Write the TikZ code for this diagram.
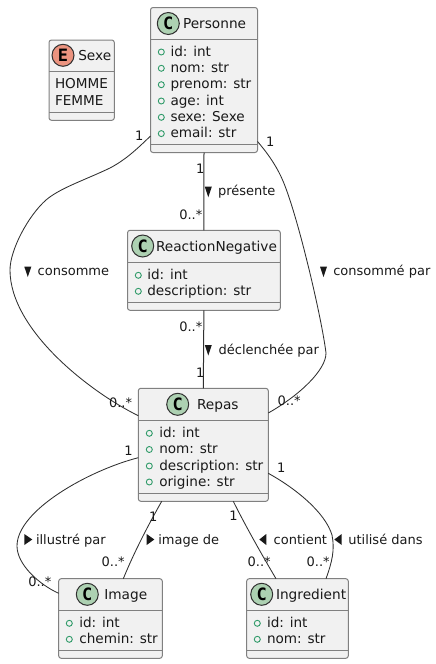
\documentclass[tikz,border=0pt]{standalone}
\usepackage{fontspec}
\setmainfont{DejaVu Sans}
\newfontfamily\badgefont{DejaVu Sans Mono}[BoldFont={DejaVu Sans Mono Bold}]
\usetikzlibrary{calc}
\definecolor{boxfill}{HTML}{F1F1F1}
\definecolor{boxline}{HTML}{808080}
\definecolor{edgeink}{HTML}{303030}
\definecolor{attrgreen}{HTML}{2E9A68}
\definecolor{classgreen}{HTML}{ADD1B2}
\definecolor{enumred}{HTML}{EB937F}
\tikzset{
  x=1pt,y=-1pt,
  classbox/.style={draw=boxline,fill=boxfill,line width=1pt,rounded corners=2.5pt,inner sep=0pt,outer sep=0pt},
  sepline/.style={draw=boxline,line width=1pt},
  badge/.style={circle,draw=edgeink,line width=1pt,minimum size=22pt,inner sep=0pt,outer sep=0pt,font=\badgefont\fontsize{17}{17}\selectfont\bfseries},
  titletext/.style={anchor=base west,inner sep=0pt,outer sep=0pt,text=black!90,font=\fontsize{13.7}{14}\selectfont},
  membertext/.style={anchor=base west,inner sep=0pt,outer sep=0pt,text=black!90,font=\fontsize{13.6}{14}\selectfont},
  edgetext/.style={anchor=base west,inner sep=0pt,outer sep=0pt,text=black!90,font=\fontsize{13}{13}\selectfont},
  plusdot/.style={circle,draw=attrgreen,line width=0.9pt,minimum size=6pt,inner sep=0pt,outer sep=0pt},
  link/.style={draw=edgeink,line width=1pt},
  curvelink/.style={draw=edgeink,line width=0.85pt},
  tri/.style={fill=black!90,draw=none}
}
% name, x1, y1, x2, y2, sep1, sep2
\newcommand{\umlbox}[7]{%
  \node[classbox,minimum width={#4-#2},minimum height={#5-#3}] (#1) at ({(#2+#4)/2},{(#3+#5)/2}) {};
  \draw[sepline] (#1.west |- 0,#6) -- (#1.east |- 0,#6);
  \draw[sepline] (#1.west |- 0,#7) -- (#1.east |- 0,#7);
}
% name, text x, circle x, baseline, text
\newcommand{\umlattr}[5]{%
  \node[plusdot] (#1c) at (#3,#4-4) {};
  \node[membertext] (#1) at (#2,#4) {#5};
}
\newcommand{\elabel}[4]{\node[edgetext] (#1) at (#2,#3) {#4};}
\begin{document}
\begin{tikzpicture}
\useasboundingbox (0,0) rectangle (436,664);

% Boxes
\umlbox{sexe}{49}{40}{114.3}{120.3}{71.3}{112.3}
\node[badge,fill=enumred] (sexeb) at (63,55.3) {E};
\node[titletext] (sexet) at (78.3,60) {Sexe};
\node[membertext] (sexeh) at (55,88) {HOMME};
\node[membertext] (sexef) at (55,105) {FEMME};

\umlbox{personne}{150.5}{7.5}{257.5}{152.5}{39.5}{144.3}
\node[badge,fill=classgreen] (personneb) at (168.3,23.5) {C};
\node[titletext] (personnet) at (183,28.5) {Personne};
\umlattr{pa}{170.5}{161.3}{56}{id: int}
\umlattr{pb}{170.5}{161.3}{72.3}{nom: str}
\umlattr{pc}{170.5}{161.3}{88.7}{prenom: str}
\umlattr{pd}{170.5}{161.3}{105}{age: int}
\umlattr{pe}{170.5}{161.3}{121.3}{sexe: Sexe}
\umlattr{pf}{170.5}{161.3}{137.6}{email: str}

\umlbox{reaction}{127.5}{230.3}{280.3}{310.3}{262.3}{302.3}
\node[badge,fill=classgreen] (reactionb) at (142.7,246) {C};
\node[titletext] (reactiont) at (156,251.3) {ReactionNegative};
\umlattr{ra}{147.3}{138.3}{279.3}{id: int}
\umlattr{rb}{147.3}{138.3}{295.3}{description: str}

\umlbox{repas}{138.3}{388.3}{268.3}{501.3}{420.3}{493.3}
\node[badge,fill=classgreen] (repasb) at (177.7,404.3) {C};
\node[titletext] (repast) at (197,409.3) {Repas};
\umlattr{ma}{159.3}{149.3}{437.3}{id: int}
\umlattr{mb}{159.3}{149.3}{453.5}{nom: str}
\umlattr{mc}{159.3}{149.3}{470}{description: str}
\umlattr{md}{159.3}{149.3}{486}{origine: str}

\umlbox{image}{58.7}{578.7}{162.3}{658.3}{610.3}{650.3}
\node[badge,fill=classgreen] (imageb) at (87.3,594.3) {C};
\node[titletext] (imaget) at (104.3,599.3) {Image};
\umlattr{ia}{79.3}{69.3}{627.3}{id: int}
\umlattr{ib}{79.3}{69.3}{643.3}{chemin: str}

\umlbox{ingredient}{246.7}{578.7}{348.3}{658.3}{610.3}{650.3}
\node[badge,fill=classgreen] (ingredientb) at (261.7,594.3) {C};
\node[titletext] (ingredientt) at (276,599.3) {Ingredient};
\umlattr{ga}{267}{257.3}{627.3}{id: int}
\umlattr{gb}{267}{257.3}{643.3}{nom: str}

% Connectors
\draw[link] (personne.south) -- (reaction.north);
\draw[link] (reaction.south) -- (repas.north);
\draw[curvelink] ($(personne.north west)+(0,128.5)$) .. controls (135,151) and (125,160) .. (110,168)
  .. controls (85,180) and (60,188) .. (46,200)
  .. controls (28,216) and (10,250) .. (10,270)
  .. controls (10,330) and (90,392) .. ($(repas.north west)+(0,27.4)$);
\draw[curvelink] ($(personne.north east)+(0,134)$) .. controls (270,156) and (279,170) .. (285,186)
  .. controls (300,225) and (322,320) .. (326,353)
  .. controls (326,370) and (300,395) .. ($(repas.north east)+(0,24.7)$);
\draw[curvelink] ($(repas.north west)+(0,69.4)$) .. controls (90,470) and (17,510) .. (17,546)
  .. controls (17,565) and (40,585) .. ($(image.north west)+(0,14.6)$);
\draw[curvelink] ($(repas.south west)+(23.4,0)$) .. controls (150,522) and (135,550) .. ($(image.north west)+(64.6,0)$);
\draw[curvelink] ($(repas.south east)+(-35,0)$) .. controls (245,525) and (262,555) .. ($(ingredient.north west)+(29.3,0)$);
\draw[curvelink] ($(repas.north east)+(0,85)$) .. controls (295,488) and (325,512) .. (332,535)
  .. controls (335,550) and (332,562) .. ($(ingredient.north west)+(79.3,0)$);

% Connector labels
\elabel{m1}{135}{140}{1}
\elabel{m2}{266}{146}{1}
\elabel{m3}{196}{173}{1}
\elabel{m4}{179.3}{219}{0..*}
\fill[tri] (204.8,186.7) -- (211.8,186.7) -- (208.3,197.3) -- cycle;
\elabel{l1}{218}{195.7}{présente}
\elabel{m5}{179.3}{331}{0..*}
\fill[tri] (204.8,345) -- (211.8,345) -- (208.3,355.5) -- cycle;
\elabel{l2}{218.7}{354}{déclenchée par}
\elabel{m6}{196}{377.3}{1}
\fill[tri] (320,266.7) -- (327,266.7) -- (323.5,277) -- cycle;
\elabel{l3}{333.3}{275}{consommé par}
\fill[tri] (24.3,266.7) -- (31.3,266.7) -- (27.8,277) -- cycle;
\elabel{l4}{37.7}{275}{consomme}
\elabel{m7}{109}{407.7}{0..*}
\elabel{m8}{277.7}{405.7}{0..*}
\elabel{m9}{124.3}{455}{1}
\fill[tri] (24.3,534) -- (32.3,539.5) -- (24.3,545) -- cycle;
\elabel{l5}{36}{544}{illustré par}
\fill[tri] (146.7,534) -- (154.3,539.5) -- (146.7,545) -- cycle;
\elabel{l6}{158.3}{544}{image de}
\elabel{m10}{149}{521}{1}
\elabel{m11}{101.7}{566.7}{0..*}
\elabel{m12}{28.3}{586.7}{0..*}
\elabel{m13}{277}{472.3}{1}
\elabel{m14}{229.3}{520.7}{1}
\fill[tri] (266.3,534) -- (259.3,539.5) -- (266.3,545) -- cycle;
\elabel{l7}{273.7}{544}{contient}
\elabel{m15}{247.7}{566.7}{0..*}
\elabel{m16}{306.7}{566.7}{0..*}
\fill[tri] (341.7,534) -- (334.3,539.5) -- (341.7,545) -- cycle;
\elabel{l8}{348.3}{544}{utilisé dans}
\end{tikzpicture}
\end{document}
